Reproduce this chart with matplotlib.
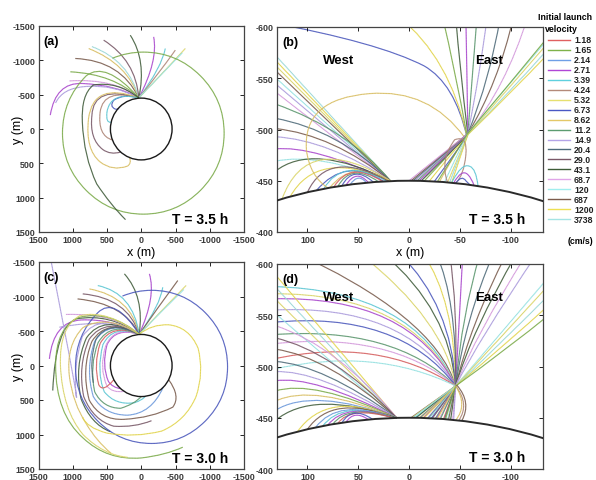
import numpy as np
import matplotlib
matplotlib.use("Agg")
import matplotlib.pyplot as plt
from matplotlib.path import Path
from matplotlib.patches import PathPatch, Circle
from matplotlib.lines import Line2D

plt.rcParams['font.family'] = ['Liberation Sans', 'DejaVu Sans']
plt.rcParams['axes.unicode_minus'] = False

velocity = ['1.18', '1.65', '2.14', '2.71', '3.39', '4.24', '5.32', '6.73', '8.62', '11.2',
            '14.9', '20.4', '29.0', '43.1', '68.7', '120', '687', '1200', '3738']
colors = ['#e06060', '#7fb24a', '#6f9fe6', '#b046d6', '#5fd0de', '#b48a7a', '#e6e070',
          '#4a58c4', '#e4c868', '#5c9c70', '#b4a4e8', '#4e6c7c', '#7a5868', '#3e5c38',
          '#e0a4e8', '#a0eeee', '#7c5c4c', '#eee052', '#a4e4e4']

body_r = 450
ticks_full = [-1500, -1000, -500, 0, 500, 1000, 1500]
ticks_zx = [-100, -50, 0, 50, 100]
ticks_zy = [-600, -550, -500, -450, -400]

# trajectories: (velocity index, [x0, y0, cx, cy, x1, y1, ...]) in metres
traj_a = [
    (3, [35, -452, 350, -640, 865, -663, 1250, -680, 1328, -202]),
    (10, [35, -452, 400, -650, 800, -620, 1150, -600, 1250, -380]),
    (1, [35, -452, 400, -800, 1036, -833]),
    (14, [35, -452, 380, -740, 1050, -700]),
    (16, [35, -452, 300, -1000, 963, -1027]),
    (8, [35, -452, 200, -950, 768, -1172]),
    (18, [35, -452, 180, -1000, 720, -1200]),
    (12, [35, -452, 80, -1000, 549, -1294]),
    (13, [35, -452, -80, -1000, 160, -1366]),
    (3, [35, -452, -250, -1000, -181, -1342]),
    (4, [35, -452, -300, -900, -351, -1172]),
    (5, [35, -452, -250, -800, -497, -1148]),
    (6, [35, -452, -300, -800, -643, -1172]),
    (15, [35, -452, -280, -780, -600, -1110]),
    (7, [35, -452, 250, -520, 400, -420, 470, -330, 380, -290, 330, -280, 330, -306]),
    (5, [35, -452, 550, -600, 600, -250, 640, 100, 420, 160]),
    (12, [35, -452, 700, -650, 720, -200, 760, 150, 560, 300, 450, 380, 300, 336]),
    (8, [35, -452, 700, -700, 770, -150, 820, 300, 600, 480, 420, 620, 200, 540, 140, 500, 170, 417]),
    (4, [35, -452, 450, -550, 500, -250, 520, -80, 440, -100]),
    (1, [35, -452, 520, -1000, 804, -774, 1150, -429, 1150, 60, 1150, 549, 804, 894, 459, 1240,
         -30, 1240, -519, 1240, -864, 894, -1210, 549, -1210, 60, -1210, -429, -864, -774,
         -519, -1120, -30, -1120, 205, -1120, 422, -1030]),
    (13, [35, -452, 350, -700, 700, -640, 880, -500, 860, -100, 840, 400, 650, 800, 450, 1100, 230, 1320]),
]

traj_c = [
    (3, [30, -452, 400, -680, 880, -660, 1280, -640, 1341, -96]),
    (13, [30, -452, 450, -760, 952, -676, 1250, -560, 1292, 363]),
    (10, [30, -452, 400, -700, 1195, -555]),
    (14, [30, -452, 380, -760, 1100, -740]),
    (16, [30, -452, 250, -900, 930, -965]),
    (12, [30, -452, 200, -980, 854, -1038]),
    (8, [30, -452, 150, -1000, 757, -1110]),
    (4, [30, -452, 120, -1050, 635, -1159]),
    (13, [30, -452, -50, -1000, 246, -1328]),
    (3, [30, -452, -220, -1000, -119, -1328]),
    (4, [30, -452, -280, -880, -314, -1135]),
    (16, [30, -452, -250, -850, -533, -1231]),
    (6, [30, -452, -300, -800, -655, -1159]),
    (15, [30, -452, -280, -770, -620, -1100]),
    (3, [30, -452, 380, -560, 500, -300, 580, 0, 480, 230, 420, 320, 300, 336]),
    (14, [30, -452, 400, -580, 520, -280, 620, 30, 500, 300, 420, 400, 250, 375]),
    (4, [30, -452, 420, -600, 560, -300, 660, 80, 540, 380, 380, 580, 100, 540, -20, 500, -60, 446]),
    (0, [30, -452, 430, -620, 600, -320, 700, -20, 620, 280, 560, 400, 400, 206]),
    (9, [30, -452, 450, -650, 630, -330, 760, 0, 680, 380, 560, 620, 300, 620, 100, 560, 0, 450]),
    (2, [30, -452, 470, -680, 680, -350, 820, 50, 700, 450, 540, 720, 200, 720, -150, 700, -320, 316]),
    (16, [30, -452, 500, -700, 720, -350, 880, 50, 760, 500, 600, 800, 250, 780, -150, 760,
          -460, 604, -580, 450, -400, 206]),
    (12, [30, -452, 520, -720, 760, -380, 930, 0, 840, 450, 700, 800, 400, 880, 100, 900, -150, 800]),
    (13, [30, -452, 550, -760, 800, -400, 980, 0, 880, 480, 740, 850, 450, 960]),
    (10, [30, -452, 600, -800, 860, -420, 1000, 0, 950, 450, 850, 800]),
    (11, [30, -452, 480, -680, 660, -380, 760, -80, 700, 250]),
    (7, [30, -452, 388, -1012, 635, -765, 960, -440, 960, 20, 960, 480, 635, 805, 310, 1130,
         -150, 1130, -610, 1130, -935, 805, -1260, 480, -1260, 20, -1260, -440, -935, -765,
         -610, -1090, -150, -1090, 71, -1090, 275, -1006]),
    (8, [30, -452, 500, -750, 850, -550, 1100, -300, 1050, 150, 1000, 550, 800, 850, 650, 1100, 441, 1271]),
    (17, [30, -452, -150, -600, -400, -590, -700, -560, -830, -250, -920, 100, -800, 450,
          -650, 800, -300, 950, 100, 1050, 500, 980, 800, 900, 854, 749]),
    (1, [30, -452, 450, -800, 900, -700, 1250, -560, 1250, 0, 1250, 700, 850, 1050, 500, 1380,
         0, 1340, -350, 1300, -606, 1184]),
    (6, [30, -452, 500, -820, 900, -720, 1200, -560, 1180, 0, 1150, 650, 850, 1000, 550, 1300, 200, 1330]),
]

traj_b = [
    (18, [18, -449.6, 132, -573]),
    (17, [18, -449.6, 132, -568]),
    (6, [18, -449.6, 132, -563]),
    (16, [18, -449.6, 132, -558]),
    (15, [18, -449.6, 132, -551]),
    (10, [18, -449.6, 132, -545]),
    (14, [18, -449.6, 132, -537]),
    (9, [18, -449.6, 60, -500, 132, -525]),
    (11, [18, -449.6, 70, -500, 132, -511]),
    (16, [18, -449.6, 75, -495, 132, -501]),
    (10, [18, -449.6, 80, -490, 132, -493]),
    (3, [18, -449.6, 95, -485, 132, -481]),
    (15, [18, -449.6, 90, -478, 132, -469]),
    (13, [18, -449.6, 95, -488, 132, -459]),
    (8, [78, -443.2, 55, -472, 20, -449.6]),
    (7, [91, -440.7, 62, -474, 25, -449.3]),
    (17, [117, -434.5, 90, -482, 18, -449.6]),
    (6, [125, -432.3, 100, -500, 18, -449.6]),
    (3, [62, -445.7, 52, -462, 40, -448.2]),
    (2, [58, -446.2, 50, -458, 42, -448]),
    (7, [66, -445.1, 55, -466, 35, -448.6]),
    (9, [70, -444.5, 57, -468, 30, -449]),
    (0, [74, -443.9, 58, -470, 26, -449.2]),
    (4, [84, -442.1, 65, -474, 22, -449.5]),
    (12, [100, -438.8, 80, -482, 20, -449.6]),
    (8, [-30, -449, -42, -471, -55, -492, -20, -540, 39, -535, 105, -530, 101, -480, 98, -455, 80, -443]),
    (7, [-25, -449.3, -41, -471, -57, -493, -45, -545, -15, -562, 30, -585, 140, -605]),
    (17, [-20, -449.6, -38, -472, -57, -494, -40, -570, 10, -610]),
    (1, [-15, -449.7, -36, -472, -57, -495, -45, -560, -33, -610]),
    (13, [-12, -449.8, -35, -472, -58, -495, -50, -560, -46, -610]),
    (3, [-10, -449.9, -34, -472, -58, -496, -57, -560, -56, -610]),
    (9, [-8, -449.9, -33, -473, -58, -496, -63, -560, -67, -610]),
    (10, [-6, -450, -32, -473, -58, -496, -70, -555, -77, -610]),
    (11, [-4, -450, -31, -473, -58, -496, -80, -550, -90, -610]),
    (16, [-2, -450, -30, -473, -58, -496, -88, -545, -103, -610]),
    (14, [0, -450, -29, -473, -58, -496, -95, -540, -117, -610]),
    (15, [-35, -448.6, -46, -472, -57, -495, -95, -540, -140, -592]),
    (6, [-38, -448.4, -48, -472, -58, -495, -98, -540, -140, -588]),
    (18, [-40, -448.2, -49, -472, -58, -495, -100, -537, -140, -582]),
    (17, [-42, -448, -50, -472, -58, -495, -100, -535, -140, -577]),
    (1, [-28, -449.1, -43, -472, -57, -495, -97, -542, -140, -594]),
    (5, [-38, -448.4, -30, -470, -45, -490, -58, -495, -56, -475, -54, -455, -46, -447.6]),
    (4, [-42, -448, -52, -468, -60, -464, -66, -462, -68, -444.8]),
    (3, [-44, -447.8, -52, -462, -58, -456, -62, -452, -64, -445.4]),
    (7, [-46, -447.6, -52, -456, -56, -450, -58, -448, -60, -446]),
]

traj_d = [
    # westward arcs from the east crossing
    (16, [-2, -450, -24, -465.5, -46, -481, -25, -550, 120, -615]),
    (4, [-6, -450, -26, -465.5, -46, -481, -5, -575, 135, -578]),
    (6, [-10, -449.9, -28, -465.4, -46, -481, -2, -572, 135, -571]),
    (3, [-14, -449.8, -30, -465.4, -46, -481, 0, -570, 135, -566]),
    (10, [-18, -449.6, -32, -465.3, -46, -481, 5, -562, 135, -555]),
    (7, [-22, -449.5, -34, -465.2, -46, -481, 10, -555, 135, -543]),
    (9, [-26, -449.3, -36, -465.1, -46, -481, 15, -540, 135, -531]),
    (14, [-30, -449, -38, -465, -46, -481, 20, -535, 135, -522]),
    (0, [-34, -448.7, -40, -464.9, -46, -481, 30, -530, 135, -507]),
    (15, [-38, -448.4, -42, -464.7, -46, -481, 35, -520, 135, -497]),
    # upward arcs
    (6, [-3, -450, -24.5, -465.5, -46, -481, -35, -545, 48, -610]),
    (13, [-7, -450, -26.5, -465.5, -46, -481, -40, -555, 25, -610]),
    (7, [-11, -449.9, -28.5, -465.4, -46, -481, -42, -560, 9, -610]),
    (17, [-15, -449.8, -30.5, -465.4, -46, -481, -45, -565, -14, -610]),
    (11, [-19, -449.6, -32.5, -465.3, -46, -481, -47, -565, -27, -610]),
    (12, [-23, -449.4, -34.5, -465.2, -46, -481, -48, -560, -40, -610]),
    (3, [-27, -449.2, -36.5, -465.1, -46, -481, -50, -555, -53, -610]),
    (9, [-31, -448.9, -38.5, -465, -46, -481, -52, -550, -70, -610]),
    (11, [-35, -448.6, -40.5, -464.8, -46, -481, -55, -545, -83, -610]),
    (16, [-39, -448.3, -42.5, -464.7, -46, -481, -60, -540, -96, -610]),
    (13, [-41, -448.1, -43.5, -464.6, -46, -481, -62, -535, -106, -610]),
    (14, [-43, -447.9, -44.5, -464.5, -46, -481, -65, -530, -116, -610]),
    (10, [-44, -447.8, -45, -464.4, -46, -481, -68, -525, -126, -610]),
    # north-east bundle
    (15, [-4, -450, -25, -465.5, -46, -481, -90, -532, -140, -590]),
    (6, [-12, -449.8, -29, -465.4, -46, -481, -92, -530, -140, -582]),
    (18, [-20, -449.6, -33, -465.3, -46, -481, -94, -526, -140, -572]),
    (17, [-28, -449.1, -37, -465.1, -46, -481, -96, -522, -140, -562]),
    (1, [-36, -448.6, -41, -464.8, -46, -481, -98, -518, -140, -552]),
    (5, [-46, -481, -60, -463, -49, -447.3]),
    (8, [-46, -481, -58, -462, -46, -447.6]),
    (16, [-47, -482, -62, -465, -52, -447]),
    # west fan
    (17, [12, -449.8, 132, -590]),
    (18, [12, -449.8, 132, -578]),
    (6, [12, -449.8, 132, -566]),
    (15, [12, -449.8, 132, -552]),
    (14, [12, -449.8, 70, -520, 132, -540]),
    (12, [12, -449.8, 75, -515, 132, -528]),
    (16, [12, -449.8, 80, -510, 132, -517]),
    (11, [12, -449.8, 85, -502, 132, -505]),
    (10, [12, -449.8, 90, -497, 132, -495]),
    (3, [12, -449.8, 95, -492, 132, -486]),
    (1, [12, -449.8, 95, -488, 132, -476]),
    (8, [12, -449.8, 95, -484, 132, -466]),
    (2, [12, -449.8, 95, -480, 132, -457]),
    (13, [12, -449.8, 95, -478, 132, -447]),
    (17, [110, -436.3, 80, -478, 15, -449.8]),
    (16, [100, -438.8, 75, -474, 15, -449.8]),
    (2, [92, -440.5, 70, -470, 15, -449.8]),
    (4, [85, -441.9, 65, -468, 15, -449.8]),
    (3, [80, -442.8, 62, -466, 15, -449.8]),
    (9, [75, -443.7, 60, -464, 15, -449.8]),
    (0, [70, -444.5, 58, -462, 15, -449.8]),
    (7, [66, -445.1, 56, -462, 36, -448.6]),
    (3, [62, -445.7, 54, -458, 40, -448.2]),
]


def draw_traj(ax, traj):
    for k, pts in traj:
        xy = np.array(pts, dtype=float).reshape(-1, 2)
        if len(xy) == 2:
            codes = [Path.MOVETO, Path.LINETO]
        else:
            codes = [Path.MOVETO] + [Path.CURVE3] * (len(xy) - 1)
        path = Path(xy, codes)
        ax.add_patch(PathPatch(path, fc='none', ec=colors[k], lw=0.85, alpha=0.85))
        # the original traces are dotted sample points over the coloured line
        ax.add_patch(PathPatch(path, fc='none', ec='#303030', lw=0.45, alpha=0.22,
                               linestyle=(0, (1, 1.5))))


W, H = 596, 481
fig = plt.figure(figsize=(W / 100, H / 100), dpi=100)


def px_axes(l, t, r, b):
    return fig.add_axes([l / W, 1 - b / H, (r - l) / W, (b - t) / H])


ax_a = px_axes(38.5, 27, 244, 233)
ax_b = px_axes(277, 28, 543, 233)
ax_c = px_axes(38.5, 263, 244, 470)
ax_d = px_axes(277, 265, 543, 470)

for ax in (ax_a, ax_b, ax_c, ax_d):
    ax.tick_params(direction='in', length=3, width=0.6, top=True, right=True,
                   labelsize=6.4, labelcolor='#3a3a3a', pad=2.5)
    for s in ax.spines.values():
        s.set_color('#444444')
        s.set_linewidth(0.9)

for ax, traj, letter, tlab, ty in ((ax_a, traj_a, '(a)', 'T = 3.5 h', 0.044),
                                   (ax_c, traj_c, '(c)', 'T = 3.0 h', 0.034)):
    draw_traj(ax, traj)
    ax.add_patch(Circle((0, 0), body_r, fill=False, ec='#1a1a1a', lw=1.0, zorder=5))
    ax.set_xlim(1500, -1500)
    ax.set_ylim(1500, -1500)
    ax.set_xticks(ticks_full)
    ax.set_yticks(ticks_full)
    ax.set_ylabel('y (m)', fontsize=9)
    ax.yaxis.set_label_coords(-0.1, 0.5)
    ax.yaxis.label.set_va('center')
    ax.text(0.025, 0.957, letter, transform=ax.transAxes, fontsize=9, fontweight='bold', va='top')
    ax.text(0.925, ty, tlab, transform=ax.transAxes, fontsize=10, fontweight='bold',
            ha='right', va='baseline')

for ax, traj, letter, tlab, ty in ((ax_b, traj_b, '(b)', 'T = 3.5 h', 0.044),
                                   (ax_d, traj_d, '(d)', 'T = 3.0 h', 0.039)):
    draw_traj(ax, traj)
    ax.add_patch(Circle((0, 0), body_r, fill=False, ec='#2a2a2a', lw=1.4, zorder=5))
    ax.set_xlim(130, -132)
    ax.set_ylim(-400, -600)
    ax.set_xticks(ticks_zx)
    ax.set_yticks(ticks_zy)
    ax.text(0.02, 0.957, letter, transform=ax.transAxes, fontsize=9, fontweight='bold', va='top')
    ax.text(0.935, ty, tlab, transform=ax.transAxes, fontsize=10, fontweight='bold',
            ha='right', va='baseline')
    ax.text(69, -568, 'West', fontsize=9.5, fontweight='bold', ha='center', va='center')
    ax.text(-79, -568, 'East', fontsize=9.5, fontweight='bold', ha='center', va='center')

for ax in (ax_a, ax_b, ax_c, ax_d):
    for lab in ax.get_xticklabels() + ax.get_yticklabels():
        lab.set_fontweight('bold')

ax_a.set_xlabel('x (m)', fontsize=9, labelpad=1)
ax_b.set_xlabel('x (m)', fontsize=9, labelpad=1)

# legend column on the right
fig.text(538 / W, 1 - 18 / H, 'Initial launch', fontsize=6.3, fontweight='bold', va='center')
fig.text(545 / W, 1 - 29.5 / H, 'velocity', fontsize=6.3, fontweight='bold', va='center')
for i, (lab, col) in enumerate(zip(velocity, colors)):
    y = 1 - (41 + i * 9.95) / H
    fig.add_artist(Line2D([548 / W, 570 / W], [y, y], color=col, lw=1.0))
    fig.text(574 / W, y, lab, fontsize=6.3, fontweight='bold', va='center', color='#222222')
fig.text(580 / W, 1 - 242 / H, '(cm/s)', fontsize=6.3, fontweight='bold', ha='center', va='center')

fig.savefig('out.png', dpi=100)
